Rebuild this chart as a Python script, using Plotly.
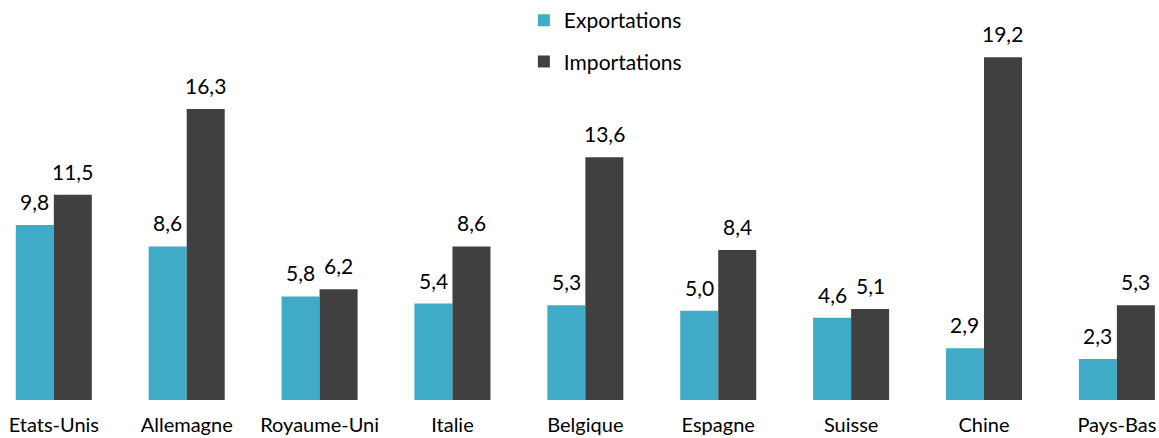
import plotly.graph_objects as go

pays = ["Etats-Unis", "Allemagne", "Royaume-Uni", "Italie", "Belgique", "Espagne", "Suisse", "Chine", "Pays-Bas"]
exportations = [9.8, 8.6, 5.8, 5.4, 5.3, 5.0, 4.6, 2.9, 2.3]
importations = [11.5, 16.3, 6.2, 8.6, 13.6, 8.4, 5.1, 19.2, 5.3]

FAM = "Lato, Open Sans, sans-serif"
font = dict(family=FAM, size=21, color="#000000")
tickfont = dict(family=FAM, size=20, color="#000000")

fig = go.Figure()
fig.add_trace(go.Bar(
    x=pays, y=exportations, name="Exportations", marker_color="#40ABC7",
    marker_line_width=0, legendgroup="e"))
fig.add_trace(go.Bar(
    x=pays, y=importations, name="Importations", marker_color="#404040",
    marker_line_width=0, legendgroup="i"))

annotations = []
for serie, shift in ((exportations, -19), (importations, 19)):
    for p, v in zip(pays, serie):
        annotations.append(dict(
            x=p, y=v, xref="x", yref="y", text=f"{v:.1f}".replace(".", ","),
            showarrow=False, xanchor="center", yanchor="bottom",
            xshift=shift, yshift=9, font=font))

fig.update_layout(
    width=1159, height=438,
    margin=dict(l=0, r=0, t=0, b=38, autoexpand=False),
    paper_bgcolor="white", plot_bgcolor="white",
    barmode="group", bargap=0.428, bargroupgap=0,
    font=font,
    showlegend=True,
    legend=dict(x=0.452, y=1.0, xanchor="left", yanchor="top",
                orientation="v", tracegroupgap=11, font=font,
                bgcolor="rgba(0,0,0,0)"),
    xaxis=dict(range=[-0.405, 8.317], showline=False, showgrid=False,
               zeroline=False, ticks="", tickfont=tickfont, automargin=False,
               ticklabelstandoff=11),
    yaxis=dict(range=[0, 22.4], visible=False, showgrid=False, zeroline=False,
               automargin=False),
    annotations=annotations,
)

fig.write_html("out.html",
               config={"displayModeBar": False},
               post_script="document.body.style.margin='0px';document.body.style.overflow='hidden';")
